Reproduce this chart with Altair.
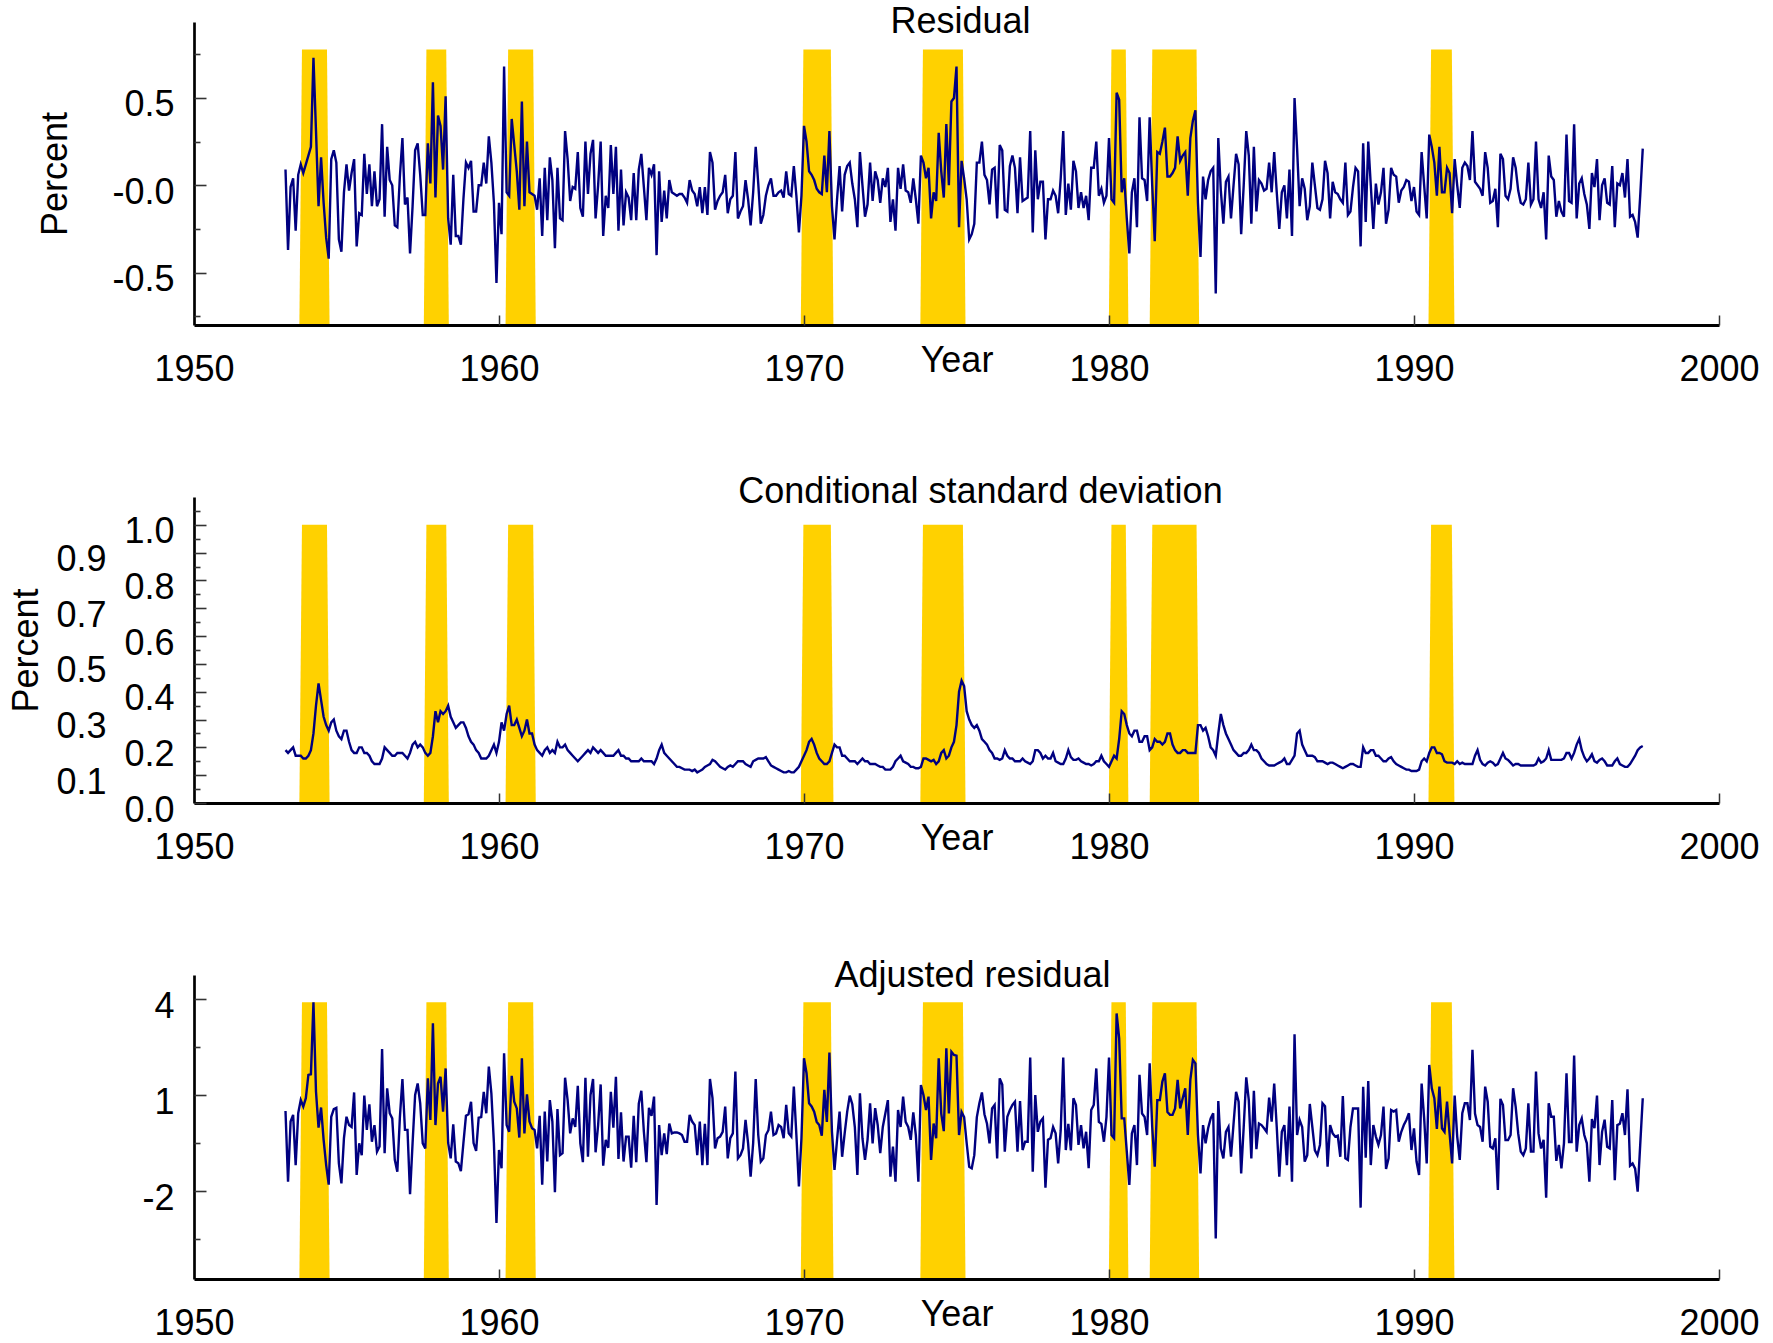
import altair as alt
import pandas as pd

FONT = "Liberation Sans"
NAVY = "#000080"
GOLD = "#FFD100"

FIRST_YEAR = 1953

RESIDUAL = [
    [0.09, -0.37, -0.01, 0.04, -0.26, 0.06, 0.12, 0.07, 0.12, 0.17, 0.22, 0.73],
    [0.31, -0.12, 0.16, -0.10, -0.30, -0.42, 0.15, 0.20, 0.13, -0.31, -0.38, -0.04],
    [0.12, -0.03, 0.07, 0.15, -0.35, -0.16, -0.17, 0.18, -0.05, 0.12, -0.12, 0.08],
    [-0.12, -0.08, 0.35, -0.18, 0.22, 0.03, 0.00, -0.23, -0.24, 0.05, 0.27, -0.11],
    [-0.07, -0.39, -0.12, 0.20, 0.24, 0.06, -0.17, -0.17, 0.24, 0.01, 0.59, -0.07],
    [0.40, 0.34, 0.09, 0.51, -0.19, -0.34, 0.06, -0.29, -0.29, -0.34, -0.08, 0.13],
    [0.10, 0.14, -0.15, -0.15, 0.00, 0.00, 0.13, 0.01, 0.28, 0.13, -0.10, -0.56],
    [-0.10, -0.28, 0.68, -0.04, -0.06, 0.38, 0.23, 0.08, -0.14, 0.48, -0.12, 0.25],
    [-0.04, -0.05, -0.06, -0.14, 0.04, -0.29, 0.10, -0.20, 0.16, 0.03, -0.36, 0.10],
    [-0.19, -0.20, 0.31, 0.15, -0.09, -0.01, -0.02, 0.19, -0.13, -0.18, 0.25, -0.05],
    [0.18, 0.26, -0.19, 0.00, 0.25, -0.29, -0.06, -0.13, 0.23, -0.05, 0.22, -0.26],
    [0.09, -0.23, -0.04, -0.07, -0.20, 0.07, -0.20, 0.09, 0.18, -0.01, -0.20, 0.10],
    [0.06, 0.12, -0.40, 0.08, -0.21, -0.03, -0.19, 0.03, -0.04, -0.05, -0.06, -0.05],
    [-0.05, -0.07, -0.10, 0.03, -0.03, -0.05, -0.12, -0.01, -0.16, -0.01, -0.17, 0.19],
    [0.13, -0.14, -0.09, -0.06, -0.04, 0.06, -0.16, -0.08, -0.06, 0.19, -0.19, -0.15],
    [-0.12, 0.03, -0.08, -0.23, -0.04, 0.22, 0.01, -0.22, -0.17, -0.06, 0.00, 0.04],
    [-0.06, -0.06, -0.04, -0.03, -0.07, 0.08, -0.05, -0.06, 0.11, -0.06, -0.27, -0.06],
    [0.34, 0.25, 0.08, 0.06, 0.03, -0.02, -0.04, -0.05, 0.17, -0.04, 0.31, -0.12],
    [-0.31, -0.08, 0.11, -0.15, 0.06, 0.11, 0.13, 0.01, -0.08, -0.24, 0.19, 0.00],
    [-0.18, -0.11, 0.13, -0.09, 0.08, 0.03, -0.10, 0.04, -0.01, 0.10, -0.21, -0.08],
    [-0.26, 0.10, -0.02, 0.12, -0.03, -0.04, -0.10, 0.04, -0.08, -0.22, 0.17, 0.13],
    [0.04, 0.10, -0.19, -0.04, -0.09, 0.30, 0.08, -0.07, 0.35, 0.00, 0.48, 0.50],
    [0.68, -0.24, 0.14, 0.04, -0.08, -0.31, -0.28, -0.22, 0.13, 0.13, 0.25, 0.06],
    [0.03, -0.11, 0.09, 0.10, -0.19, 0.23, 0.20, -0.14, -0.15, 0.11, 0.17, 0.10],
    [-0.16, 0.16, -0.09, -0.08, -0.07, 0.31, -0.27, 0.20, -0.08, 0.02, 0.02, -0.31],
    [-0.08, -0.08, -0.03, -0.06, -0.16, 0.04, 0.31, -0.17, 0.01, -0.14, 0.14, 0.08],
    [-0.13, -0.04, -0.13, -0.06, -0.20, 0.10, 0.10, 0.25, -0.06, -0.02, -0.10, -0.06],
    [0.27, -0.08, -0.10, 0.53, 0.49, -0.04, 0.04, -0.19, -0.39, -0.04, 0.04, -0.24],
    [0.39, 0.04, 0.03, -0.09, 0.39, 0.00, -0.32, 0.19, 0.18, 0.25, 0.33, 0.05],
    [0.05, 0.07, 0.10, 0.28, 0.14, 0.17, 0.19, -0.06, 0.27, 0.37, 0.43, -0.10],
    [-0.41, 0.05, -0.08, 0.03, 0.08, 0.10, -0.62, 0.27, -0.03, -0.22, 0.02, 0.05],
    [-0.19, 0.00, 0.18, 0.12, -0.28, 0.00, 0.31, 0.17, -0.22, 0.22, -0.15, 0.03],
    [0.01, -0.03, -0.02, 0.13, -0.04, 0.19, -0.04, -0.25, -0.04, 0.00, -0.19, 0.09],
    [-0.29, 0.50, 0.21, -0.12, 0.04, -0.02, -0.20, -0.12, 0.13, 0.00, -0.13, -0.14],
    [-0.08, 0.14, 0.07, -0.19, 0.02, -0.04, -0.05, -0.08, -0.10, 0.13, -0.17, -0.15],
    [-0.01, 0.10, 0.08, -0.35, 0.24, -0.21, 0.25, 0.00, -0.25, 0.01, -0.11, -0.04],
    [0.10, -0.22, -0.14, 0.10, 0.06, 0.05, -0.10, -0.03, -0.01, 0.03, 0.02, -0.09],
    [-0.01, -0.15, -0.17, 0.19, 0.00, -0.19, 0.29, 0.22, 0.13, -0.06, 0.22, -0.04],
    [-0.04, 0.10, 0.07, -0.16, 0.15, 0.00, -0.13, 0.10, 0.13, 0.11, 0.03, 0.31],
    [0.02, 0.00, -0.02, -0.06, 0.19, 0.10, -0.10, -0.09, -0.02, -0.24, 0.18, 0.15],
    [-0.06, -0.08, -0.02, 0.16, 0.10, -0.03, -0.10, -0.11, -0.08, 0.13, -0.11, -0.08],
    [0.25, -0.08, -0.13, -0.04, -0.31, 0.17, 0.05, 0.03, -0.18, -0.09, -0.15, -0.18],
    [0.29, -0.09, -0.10, 0.35, -0.19, 0.01, 0.04, -0.05, -0.11, -0.25, 0.07, -0.01],
    [0.15, -0.20, 0.00, 0.04, -0.10, -0.11, 0.11, -0.24, 0.01, 0.00, 0.07, -0.07],
    [0.15, -0.18, -0.17, -0.21, -0.30, -0.06, 0.21],
]

COND_SD = [
    [0.19, 0.18, 0.19, 0.20, 0.17, 0.17, 0.17, 0.16, 0.16, 0.17, 0.19, 0.25],
    [0.35, 0.43, 0.37, 0.31, 0.28, 0.26, 0.29, 0.30, 0.26, 0.24, 0.23, 0.26],
    [0.26, 0.22, 0.19, 0.18, 0.18, 0.20, 0.20, 0.18, 0.18, 0.17, 0.15, 0.14],
    [0.14, 0.14, 0.16, 0.20, 0.19, 0.18, 0.17, 0.17, 0.18, 0.18, 0.18, 0.17],
    [0.16, 0.18, 0.21, 0.22, 0.20, 0.21, 0.20, 0.18, 0.17, 0.18, 0.24, 0.33],
    [0.29, 0.33, 0.32, 0.33, 0.35, 0.31, 0.29, 0.27, 0.28, 0.29, 0.29, 0.27],
    [0.24, 0.22, 0.21, 0.19, 0.18, 0.16, 0.16, 0.16, 0.17, 0.19, 0.21, 0.18],
    [0.22, 0.29, 0.26, 0.32, 0.35, 0.28, 0.28, 0.30, 0.27, 0.24, 0.26, 0.30],
    [0.25, 0.25, 0.21, 0.19, 0.18, 0.17, 0.19, 0.20, 0.18, 0.19, 0.18, 0.22],
    [0.20, 0.20, 0.21, 0.19, 0.18, 0.17, 0.16, 0.15, 0.16, 0.17, 0.18, 0.19],
    [0.18, 0.20, 0.19, 0.18, 0.19, 0.18, 0.17, 0.17, 0.17, 0.17, 0.18, 0.19],
    [0.17, 0.17, 0.16, 0.16, 0.15, 0.15, 0.15, 0.15, 0.16, 0.15, 0.15, 0.15],
    [0.15, 0.14, 0.16, 0.19, 0.21, 0.18, 0.17, 0.16, 0.15, 0.14, 0.13, 0.13],
    [0.125, 0.12, 0.12, 0.12, 0.115, 0.12, 0.11, 0.115, 0.12, 0.13, 0.135, 0.14],
    [0.155, 0.15, 0.14, 0.13, 0.125, 0.12, 0.13, 0.135, 0.13, 0.14, 0.15, 0.15],
    [0.15, 0.14, 0.135, 0.13, 0.15, 0.155, 0.16, 0.16, 0.16, 0.165, 0.15, 0.135],
    [0.13, 0.125, 0.12, 0.115, 0.11, 0.11, 0.115, 0.11, 0.11, 0.12, 0.13, 0.15],
    [0.17, 0.19, 0.22, 0.23, 0.21, 0.18, 0.16, 0.15, 0.14, 0.14, 0.15, 0.18],
    [0.21, 0.20, 0.20, 0.17, 0.17, 0.16, 0.15, 0.15, 0.15, 0.14, 0.15, 0.16],
    [0.15, 0.15, 0.14, 0.14, 0.14, 0.135, 0.13, 0.13, 0.12, 0.12, 0.12, 0.13],
    [0.15, 0.16, 0.17, 0.15, 0.145, 0.14, 0.13, 0.13, 0.125, 0.125, 0.13, 0.16],
    [0.16, 0.155, 0.15, 0.155, 0.14, 0.15, 0.18, 0.19, 0.16, 0.17, 0.20, 0.22],
    [0.28, 0.40, 0.44, 0.42, 0.33, 0.30, 0.28, 0.27, 0.28, 0.26, 0.23, 0.22],
    [0.21, 0.19, 0.18, 0.16, 0.16, 0.155, 0.16, 0.19, 0.17, 0.16, 0.16, 0.15],
    [0.15, 0.15, 0.16, 0.15, 0.145, 0.14, 0.15, 0.19, 0.19, 0.18, 0.16, 0.17],
    [0.16, 0.16, 0.18, 0.15, 0.145, 0.14, 0.14, 0.16, 0.19, 0.165, 0.155, 0.155],
    [0.16, 0.15, 0.145, 0.14, 0.14, 0.135, 0.14, 0.15, 0.15, 0.17, 0.15, 0.14],
    [0.13, 0.15, 0.17, 0.16, 0.23, 0.33, 0.32, 0.28, 0.25, 0.24, 0.26, 0.26],
    [0.22, 0.22, 0.24, 0.24, 0.19, 0.20, 0.23, 0.22, 0.22, 0.21, 0.22, 0.25],
    [0.25, 0.21, 0.19, 0.18, 0.18, 0.19, 0.19, 0.18, 0.18, 0.18, 0.18, 0.28],
    [0.28, 0.26, 0.27, 0.24, 0.20, 0.19, 0.17, 0.25, 0.32, 0.28, 0.25, 0.23],
    [0.21, 0.19, 0.18, 0.17, 0.17, 0.18, 0.18, 0.19, 0.21, 0.19, 0.19, 0.18],
    [0.16, 0.15, 0.14, 0.135, 0.135, 0.135, 0.14, 0.145, 0.15, 0.16, 0.14, 0.14],
    [0.155, 0.17, 0.25, 0.26, 0.21, 0.19, 0.17, 0.17, 0.17, 0.165, 0.15, 0.15],
    [0.15, 0.145, 0.14, 0.145, 0.145, 0.14, 0.135, 0.13, 0.125, 0.13, 0.135, 0.14],
    [0.14, 0.135, 0.13, 0.13, 0.20, 0.18, 0.18, 0.19, 0.19, 0.17, 0.17, 0.16],
    [0.15, 0.15, 0.16, 0.165, 0.15, 0.14, 0.135, 0.13, 0.125, 0.12, 0.12, 0.115],
    [0.115, 0.115, 0.12, 0.15, 0.16, 0.15, 0.18, 0.20, 0.20, 0.18, 0.18, 0.175],
    [0.15, 0.145, 0.145, 0.145, 0.14, 0.15, 0.14, 0.145, 0.14, 0.14, 0.14, 0.14],
    [0.17, 0.19, 0.155, 0.14, 0.135, 0.145, 0.15, 0.145, 0.135, 0.14, 0.16, 0.18],
    [0.16, 0.155, 0.145, 0.135, 0.14, 0.14, 0.135, 0.135, 0.135, 0.135, 0.135, 0.135],
    [0.14, 0.16, 0.145, 0.15, 0.16, 0.19, 0.155, 0.155, 0.155, 0.155, 0.155, 0.16],
    [0.18, 0.18, 0.16, 0.18, 0.21, 0.23, 0.19, 0.165, 0.15, 0.16, 0.175, 0.15],
    [0.145, 0.155, 0.16, 0.15, 0.135, 0.135, 0.135, 0.15, 0.16, 0.14, 0.135, 0.13],
    [0.13, 0.14, 0.155, 0.17, 0.19, 0.20, 0.205],
]

ADJ_RESIDUAL = [
    [0.50, -1.71, 0.17, 0.38, -1.19, 0.43, 0.84, 0.64, 0.90, 1.63, 1.65, 3.90],
    [1.10, -0.02, 0.61, -0.40, -1.19, -1.80, 0.32, 0.56, 0.60, -1.14, -1.76, -0.35],
    [0.32, 0.06, 0.00, 1.08, -1.50, -0.51, -0.88, 0.98, -0.09, 0.71, -0.46, 0.06],
    [-0.77, -0.61, 2.44, -0.82, 1.21, 0.43, 0.27, -1.03, -1.40, 0.30, 1.50, -0.09],
    [-0.09, -2.10, -0.50, 1.00, 1.36, 0.74, -0.51, -0.67, 1.52, 0.22, 3.24, 0.06],
    [1.36, 1.57, 0.48, 1.83, -0.50, -0.98, 0.08, -1.08, -1.13, -1.38, -0.50, 0.35],
    [0.40, 0.79, -0.50, -0.75, 0.29, 0.31, 1.10, 0.43, 1.89, 1.05, -0.50, -3.00],
    [-0.72, -1.29, 2.30, 0.06, -0.15, 1.60, 0.79, 0.58, -0.33, 2.15, -0.20, 1.02],
    [0.17, -0.04, -0.09, -0.67, 0.35, -1.80, 0.48, -1.08, 0.84, 0.17, -2.04, 0.56],
    [-0.88, -0.82, 1.54, 0.84, -0.20, 0.27, 0.00, 1.29, -0.51, -1.10, 1.54, -0.93],
    [1.00, 1.50, -0.79, 0.06, 1.33, -1.21, -0.40, -0.65, 1.10, -0.02, 1.57, -1.00],
    [0.46, -1.08, -0.30, -0.30, -1.27, 0.35, -1.10, 0.73, 1.13, -0.15, -1.10, 0.60],
    [0.35, 0.95, -2.44, 0.06, -0.88, -0.20, -0.85, 0.11, -0.20, -0.17, -0.17, -0.20],
    [-0.25, -0.46, -0.46, 0.38, 0.17, 0.06, -0.88, 0.17, -1.19, 0.10, -1.19, 1.50],
    [0.90, -0.67, -0.35, -0.30, -0.15, 0.64, -0.98, -0.35, -0.20, 1.73, -0.98, -0.88],
    [-0.67, 0.22, -0.50, -1.55, -0.50, 1.50, -0.25, -1.08, -0.98, -0.25, -0.10, 0.48],
    [-0.25, -0.20, 0.06, 0.00, -0.35, 0.69, -0.20, -0.30, 1.26, -0.25, -1.86, -0.35],
    [2.15, 1.68, 0.74, 0.64, 0.48, 0.16, 0.06, -0.27, 1.16, 0.16, 2.33, -0.15],
    [-1.34, -0.40, 0.48, -0.93, -0.20, 0.48, 0.98, 0.71, 0.00, -1.50, 1.05, -0.35],
    [-1.03, -0.40, 0.74, -0.51, 0.59, 0.06, -0.82, 0.00, 0.42, 0.84, -1.55, -0.61],
    [-1.71, 0.53, 0.00, 0.95, 0.16, 0.00, -0.40, 0.46, -0.25, -1.71, 1.31, 1.00],
    [0.53, 0.95, -1.03, 0.11, -0.35, 2.15, 0.42, -0.13, 2.46, 0.42, 2.35, 2.25],
    [2.23, -0.25, 0.47, 0.31, -0.50, -1.24, -1.29, -0.88, 0.31, 0.74, 1.08, 0.40],
    [0.10, -0.51, 0.58, 0.69, -0.98, 1.52, 1.33, -0.77, 0.32, 0.53, 0.69, 0.79],
    [-0.77, 0.81, -0.72, -0.46, -0.46, 2.17, -1.40, 1.00, -0.15, 0.17, 0.27, -1.90],
    [-0.40, -0.35, 0.00, -0.20, -1.14, -0.10, 2.17, -0.72, 0.10, -0.73, 0.90, 0.69],
    [-0.56, 0.06, -0.67, -0.15, -1.29, 0.53, 0.69, 1.83, 0.16, 0.10, -0.46, 0.31],
    [2.17, -0.25, -0.35, 3.55, 2.77, 0.27, 0.27, -0.77, -1.81, -0.20, 0.06, -1.19],
    [1.63, 0.42, 0.31, -0.25, 1.99, 0.00, -1.24, 0.84, 0.84, 1.42, 1.68, 0.47],
    [0.38, 0.38, 0.58, 1.47, 0.58, 0.90, 1.21, -0.25, 1.47, 2.10, 1.99, -0.25],
    [-1.45, 0.06, -0.51, -0.04, 0.27, 0.43, -3.48, 0.81, -0.67, -0.98, -0.15, 0.00],
    [-0.93, 0.10, 1.10, 0.79, -1.45, 0.00, 1.55, 0.84, -0.98, 1.13, -0.69, 0.11],
    [0.06, -0.04, -0.15, 0.92, 0.17, 1.36, 0.00, -1.55, -0.15, 0.06, -1.19, 0.64],
    [-1.71, 2.90, -0.25, 0.22, 0.00, -1.08, -0.88, 0.72, 0.00, -0.73, -0.88, -0.56],
    [0.74, 0.65, -1.24, 0.06, -0.20, -0.30, -0.27, -0.93, 0.97, -0.98, -1.03, 0.00],
    [0.58, 0.58, 0.58, -2.52, 1.26, -0.96, 1.44, -1.19, 0.06, -0.30, -0.56, -0.25],
    [0.64, -1.31, -0.98, 0.53, 0.48, 0.53, -0.46, -0.15, 0.06, 0.22, 0.43, -0.72],
    [-0.04, -1.08, -1.50, 1.36, 0.27, -1.14, 1.94, 1.21, 0.90, -0.06, 1.26, -0.04],
    [-0.15, 0.79, -0.20, -1.14, 0.98, -0.30, -1.03, 0.43, 0.74, 0.74, 0.22, 2.41],
    [0.42, 0.06, 0.00, -0.46, 1.26, 0.79, -0.61, -0.67, -0.35, -1.97, 0.88, 0.69],
    [-0.41, -0.41, -0.25, 1.21, 0.64, -0.20, -0.77, -0.88, -0.67, 0.74, -0.77, -0.77],
    [1.73, -0.20, -0.67, -0.40, -2.21, 0.74, 0.32, 0.32, -1.06, -0.56, -1.29, -0.51],
    [1.68, -0.47, -0.47, 2.23, -0.77, 0.06, 0.27, -0.25, -0.51, -1.71, 0.25, -0.04],
    [0.98, -1.19, -0.15, 0.23, -0.62, -0.67, 0.84, -1.66, 0.06, 0.10, 0.43, -0.25],
    [1.18, -1.21, -1.14, -1.30, -2.02, -0.56, 0.90],
]

# Recession shading (fractional years: start and end of the shaded top)
REC_START = [1953.54, 1957.62, 1960.30, 1969.98, 1973.90, 1980.08, 1981.42, 1990.56]
REC_END = [1954.36, 1958.27, 1961.12, 1970.88, 1975.21, 1980.55, 1982.87, 1991.24]

X_TICKS = [1950, 1960, 1970, 1980, 1990, 2000]

# ---------------- build the monthly table ----------------
rows = []
for yi, (r, s, a) in enumerate(zip(RESIDUAL, COND_SD, ADJ_RESIDUAL)):
    assert len(r) == len(s) == len(a), f"row {FIRST_YEAR + yi} length mismatch {len(r)} {len(s)} {len(a)}"
    for mi in range(len(r)):
        rows.append({"t": FIRST_YEAR + yi + mi / 12.0, "resid": r[mi], "sd": s[mi], "adj": a[mi]})
df = pd.DataFrame(rows)

RAMP = 0.085
W = 1525


def band_frame(top, bottom):
    recs = []
    for i, (s, e) in enumerate(zip(REC_START, REC_END)):
        recs += [
            {"band": i, "bx": s - RAMP, "by": bottom, "base": bottom},
            {"band": i, "bx": s, "by": top, "base": bottom},
            {"band": i, "bx": e, "by": top, "base": bottom},
            {"band": i, "bx": e + RAMP, "by": bottom, "base": bottom},
        ]
    return pd.DataFrame(recs)


def panel(col, title, tdx, toff, height, domain, band_top, major, minor,
          label_expr, ytitle="", ytitle_x=-124, label_padding=20):
    xs = alt.Scale(domain=[1950, 2000], nice=False, zero=False)
    ys = alt.Scale(domain=domain, nice=False, zero=False)

    main_x = alt.Axis(
        orient="bottom", values=X_TICKS, format="d", ticks=False, grid=False,
        domain=True, domainColor="black", domainWidth=3.2,
        labelFont=FONT, labelFontSize=36, labelColor="black",
        labelBaseline="alphabetic", labelPadding=55, labelFlush=False, labelOverlap=False,
        title="Year", titleFont=FONT, titleFontSize=36, titleFontWeight="normal",
        titleColor="black", titleBaseline="alphabetic", titleY=46, zindex=1,
    )
    main_y = alt.Axis(
        orient="left", values=major, ticks=False, grid=False,
        domain=True, domainColor="black", domainWidth=2.7,
        labelExpr=label_expr, labelFont=FONT, labelFontSize=36, labelColor="black",
        labelBaseline="alphabetic", labelOffset=18, labelPadding=label_padding,
        labelOverlap=False, labelFlush=False,
        title=ytitle, titleFont=FONT, titleFontSize=36, titleFontWeight="normal",
        titleColor="black", titleAngle=270, titleAlign="center", titleBaseline="alphabetic",
        titleX=ytitle_x, titleY=height / 2, zindex=1,
    )
    tick_x = alt.Axis(
        orient="top", offset=-height, values=X_TICKS[1:], ticks=True, tickSize=10,
        tickWidth=1.5, tickColor="#333333", labels=False, domain=False, grid=False,
        title="", zindex=1,
    )
    tick_y_major = alt.Axis(
        orient="right", offset=-W, values=major, ticks=True, tickSize=12,
        tickWidth=1.6, tickColor="#333333", labels=False, domain=False, grid=False,
        title="", zindex=1,
    )
    tick_y_minor = alt.Axis(
        orient="right", offset=-W, values=minor, ticks=True, tickSize=6,
        tickWidth=1.6, tickColor="#333333", labels=False, domain=False, grid=False,
        title="", zindex=1,
    )

    bands = alt.Chart(band_frame(band_top, domain[0])).mark_area(
        color=GOLD, opacity=1, interpolate="linear"
    ).encode(
        x=alt.X("bx:Q", scale=xs, axis=main_x),
        y=alt.Y("by:Q", scale=ys, axis=main_y),
        y2=alt.Y2("base:Q"),
        detail="band:N",
    )
    line = alt.Chart(df).mark_line(color=NAVY, strokeWidth=2.4).encode(
        x=alt.X("t:Q", scale=xs, axis=tick_x),
        y=alt.Y(f"{col}:Q", scale=ys, axis=tick_y_major),
    )
    ghost = alt.Chart(df).mark_line(opacity=0).encode(
        x=alt.X("t:Q", scale=xs, axis=None),
        y=alt.Y(f"{col}:Q", scale=ys, axis=tick_y_minor),
    )
    return alt.layer(bands, line, ghost).resolve_axis(
        x="independent", y="independent"
    ).properties(
        width=W, height=height,
        title=alt.TitleParams(
            text=title, anchor="middle", frame="group", font=FONT, fontSize=36,
            fontWeight="normal", color="black", baseline="alphabetic",
            offset=toff, dx=tdx,
        ),
    )


p1 = panel(
    "resid", "Residual", 4, -47, 303, [-0.8, 0.935], 0.778,
    [-0.5, 0.0, 0.5], [-0.75, -0.25, 0.25, 0.75],
    "datum.value > 0 ? format(datum.value, '.1f') : '-' + format(abs(datum.value), '.1f')",
    ytitle="Percent", ytitle_x=-128,
)
p2 = panel(
    "sd", "Conditional standard deviation", 24, -42, 306, [0.0, 1.1], 1.0,
    [round(i * 0.1, 1) for i in range(11)], [round(0.05 + i * 0.1, 2) for i in range(11)],
    "format(datum.value, '.1f')",
    ytitle="Percent", ytitle_x=-157,
    label_padding={"condition": {"test": "round(datum.value * 10) % 2 == 1", "value": 88}, "value": 20},
)
p3 = panel(
    "adj", "Adjusted residual", 16, -48, 304, [-4.75, 4.75], 3.9,
    [-2, 1, 4], [-3.5, -0.5, 2.5],
    "datum.value < 0 ? '-' + format(abs(datum.value), 'd') : format(datum.value, 'd')",
    ytitle="", ytitle_x=-124,
)

chart = alt.vconcat(p1, p2, p3, spacing=172, bounds="flush").properties(
    padding={"left": 8, "top": 4, "right": 5, "bottom": 2}
).configure(background="white").configure_view(stroke=None)

chart.save("out.html", embed_options={"renderer": "svg", "actions": False})
